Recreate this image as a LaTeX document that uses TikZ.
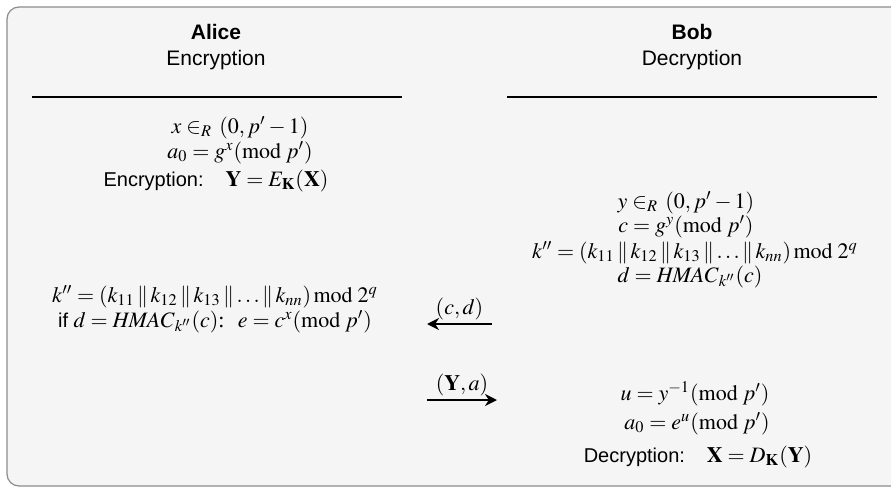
\documentclass[tikz,border=0pt]{standalone}
\usepackage{mathptmx}
\usepackage[no-math]{fontspec}
\setmainfont{Liberation Serif}
\setsansfont{Liberation Sans}
\usetikzlibrary{positioning,arrows.meta}
\newcommand{\sflabel}[1]{{\fontsize{10}{12}\selectfont\sffamily #1}}
\newcommand{\pl}{\!\parallel\!}

\begin{document}
\begin{tikzpicture}[x=0.5pt, y=-0.5pt,
    panel/.style={draw=black!45, fill=black!4, rounded corners=6pt, line width=0.6pt},
    who/.style={font=\fontsize{10.5}{12}\selectfont\sffamily\bfseries, inner sep=0pt},
    role/.style={font=\fontsize{10.5}{12}\selectfont\sffamily, inner sep=0pt},
    rule/.style={line width=1pt},
    eqn/.style={font=\fontsize{11}{13}\selectfont, inner sep=0pt, anchor=base},
    msg/.style={-{Stealth[length=6pt,width=6pt]}, line width=1pt},
    lbl/.style={font=\fontsize{11}{13}\selectfont, inner sep=1.5pt}
  ]
  \useasboundingbox (0,0) rectangle (891,488);
  \clip (0,0) rectangle (891,488);
  \draw[panel] (7,7) rectangle (920,486);

  % headers
  \node[who]  (alice) at (216,32) {Alice};
  \node[role] (enc)   at (216,60) {Encryption};
  \node[who]  (bob)   at (692,32) {Bob};
  \node[role] (dec)   at (692,60) {Decryption};
  \coordinate (ruleA1) at (32,97);  \coordinate (ruleA2) at (402,97);
  \coordinate (ruleB1) at (507,97); \coordinate (ruleB2) at (877,97);
  \draw[rule] (ruleA1) -- (ruleA2);
  \draw[rule] (ruleB1) -- (ruleB2);

  % Alice
  \node[eqn] (ax)   at (240,133) {$x \in_R\, (0, p'-1)$};
  \node[eqn] (aa)   at (240,158) {$a_0 = g^x (\mathrm{mod}\; p')$};
  \node[eqn] (aenc) at (216,186) {\sflabel{Encryption:}\quad $\mathbf{Y} = E_{\mathbf{K}}(\mathbf{X})$};
  \node[eqn] (ak)   at (215,302) {$k'' = (k_{11} \pl k_{12} \pl k_{13} \pl {\ldots} \pl k_{nn})\,\mathrm{mod}\; 2^q$};
  \node[eqn] (aif)  at (215,327) {\sflabel{if} $d = \mathit{HMAC}_{k''}(c)$:\; $e = c^x (\mathrm{mod}\; p')$};

  % Bob
  \node[eqn] (by)   at (686,208) {$y \in_R\, (0, p'-1)$};
  \node[eqn] (bc)   at (686,232) {$c = g^y (\mathrm{mod}\; p')$};
  \node[eqn] (bk)   at (695,258) {$k'' = (k_{11} \pl k_{12} \pl k_{13} \pl {\ldots} \pl k_{nn})\,\mathrm{mod}\; 2^q$};
  \node[eqn] (bd)   at (690,282) {$d = \mathit{HMAC}_{k''}(c)$};
  \node[eqn] (bu)   at (695,400) {$u = y^{-1} (\mathrm{mod}\; p')$};
  \node[eqn] (ba)   at (697,429) {$a_0 = e^u (\mathrm{mod}\; p')$};
  \node[eqn] (bdec) at (698,462) {\sflabel{Decryption:}\quad $\mathbf{X} = D_{\mathbf{K}}(\mathbf{Y})$};

  % messages
  \coordinate (cdR) at (492,324); \coordinate (cdL) at (427,324);
  \coordinate (yaL) at (427,400); \coordinate (yaR) at (497,400);
  \draw[msg] (cdR) -- (cdL) node[lbl, midway, above] (cdlab) {$(c,d)$};
  \draw[msg] (yaL) -- (yaR) node[lbl, midway, above] (yalab) {$(\mathbf{Y},a)$};
\end{tikzpicture}
\end{document}
